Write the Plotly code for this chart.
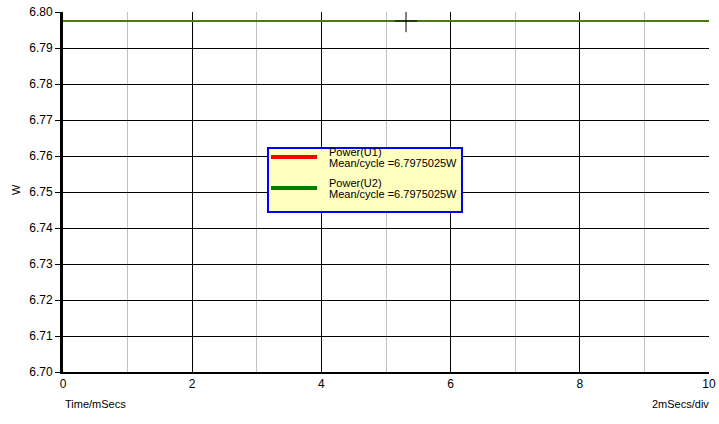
import plotly.graph_objects as go

time_ms = [0, 10]
power_u1 = [6.7975025, 6.7975025]
power_u2 = [6.7975025, 6.7975025]
series_titles = ["Power(U1)", "Power(U2)"]
series_means = ["Mean/cycle =6.7975025W", "Mean/cycle =6.7975025W"]
series_colors = ["#ff0000", "#008000"]
cursor_x = [5.31]
cursor_y = [6.7975025]
x_ticks = [0, 2, 4, 6, 8, 10]
y_ticks = [6.70, 6.71, 6.72, 6.73, 6.74, 6.75, 6.76, 6.77, 6.78, 6.79, 6.80]

FONT = "Liberation Sans, Arial, sans-serif"
W, H = 719, 424
L, R, T, B = 63, 10, 12, 52
PW, PH = W - L - R, H - T - B


def px(x):
    return (x - L) / PW


def py(y):
    return (H - B - y) / PH


fig = go.Figure()
fig.add_trace(go.Scatter(x=time_ms, y=power_u1, mode="lines", name=series_titles[0],
                         line=dict(color=series_colors[0], width=2), showlegend=False))
fig.add_trace(go.Scatter(x=time_ms, y=power_u2, mode="lines", name=series_titles[1],
                         line=dict(color=series_colors[1], width=2), showlegend=False))
# visible overlapping line (red + green blended)
fig.add_trace(go.Scatter(x=time_ms, y=power_u2, mode="lines", showlegend=False,
                         line=dict(color="#4a7a14", width=2), hoverinfo="skip"))
fig.add_trace(go.Scatter(x=cursor_x, y=cursor_y, mode="markers", showlegend=False,
                         marker=dict(symbol="cross-thin", size=16,
                                     line=dict(color="black", width=1)),
                         hoverinfo="skip"))

shapes = [
    dict(type="rect", xref="paper", yref="paper", x0=px(268), x1=px(462),
         y0=py(212), y1=py(148), fillcolor="#ffffc0",
         line=dict(color="#0000ff", width=2), layer="above"),
]
annotations = [
    dict(text="Time/mSecs", xref="paper", yref="paper", x=0, y=py(404),
         xanchor="left", yanchor="middle", showarrow=False, font=dict(size=11)),
    dict(text="2mSecs/div", xref="paper", yref="paper", x=px(711), y=py(404),
         xanchor="right", yanchor="middle", showarrow=False, font=dict(size=11)),
    dict(text="W", xref="paper", yref="paper", x=px(16), y=py(190),
         xanchor="center", yanchor="middle", textangle=-90, showarrow=False,
         font=dict(size=11)),
]
line_ys = [157, 188]
for i in range(2):
    ly = line_ys[i]
    shapes.append(dict(type="line", xref="paper", yref="paper", x0=px(271), x1=px(317),
                       y0=py(ly), y1=py(ly), line=dict(color=series_colors[i], width=4),
                       layer="above"))
    annotations.append(dict(text=series_titles[i], xref="paper", yref="paper",
                            x=px(327), y=py(ly - 5), xanchor="left", yanchor="middle",
                            showarrow=False, font=dict(size=11)))
    annotations.append(dict(text=series_means[i], xref="paper", yref="paper",
                            x=px(327), y=py(ly + 6), xanchor="left", yanchor="middle",
                            showarrow=False, font=dict(size=11)))

fig.update_layout(
    width=W, height=H,
    margin=dict(l=L, r=R, t=T, b=B, autoexpand=False),
    paper_bgcolor="white", plot_bgcolor="white",
    font=dict(family=FONT, size=12, color="black"),
    showlegend=False,
    xaxis=dict(range=[0, 10], tickvals=x_ticks, ticktext=[str(v) for v in x_ticks],
               showgrid=True, gridcolor="black", gridwidth=1,
               minor=dict(dtick=1, showgrid=True, gridcolor="#c0c0c0", gridwidth=1),
               showline=True, linecolor="black", linewidth=2, automargin=False,
               ticks="", zeroline=False, tickfont=dict(size=12)),
    yaxis=dict(range=[6.70, 6.80], tickvals=y_ticks, ticktext=[f"{v:.2f}" for v in y_ticks],
               showgrid=True, gridcolor="black", gridwidth=1,
               showline=True, linecolor="black", linewidth=3, automargin=False,
               ticks="outside", ticklen=5, tickcolor="black", tickwidth=1,
               zeroline=False, tickfont=dict(size=12)),
    shapes=shapes,
    annotations=annotations,
)

fig.write_html("out.html", config={"displayModeBar": False},
               post_script="document.body.style.margin='0';document.body.style.overflow='hidden';")
